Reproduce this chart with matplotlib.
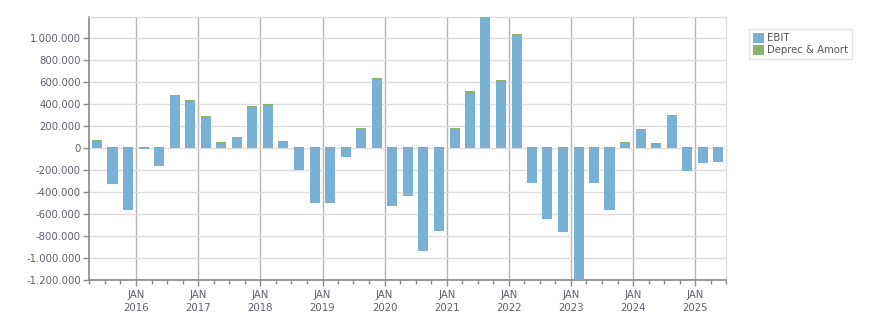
import datetime as dt

import matplotlib
matplotlib.use('Agg')
import matplotlib.pyplot as plt
import matplotlib.dates as mdates
from matplotlib.ticker import FuncFormatter, MultipleLocator
import numpy as np

# quarterly data, Q2 2015 .. Q2 2025
quarters = ['2015Q2', '2015Q3', '2015Q4',
            '2016Q1', '2016Q2', '2016Q3', '2016Q4',
            '2017Q1', '2017Q2', '2017Q3', '2017Q4',
            '2018Q1', '2018Q2', '2018Q3', '2018Q4',
            '2019Q1', '2019Q2', '2019Q3', '2019Q4',
            '2020Q1', '2020Q2', '2020Q3', '2020Q4',
            '2021Q1', '2021Q2', '2021Q3', '2021Q4',
            '2022Q1', '2022Q2', '2022Q3', '2022Q4',
            '2023Q1', '2023Q2', '2023Q3', '2023Q4',
            '2024Q1', '2024Q2', '2024Q3', '2024Q4',
            '2025Q1', '2025Q2']
ebit = [62000, -325000, -564000,
        -12000, -161000, 472000, 421000,
        281000, 47000, 92000, 372000,
        384000, 53000, -200000, -497000,
        -497000, -79000, 174000, 621000,
        -524000, -433000, -933000, -751000,
        174000, 503000, 1280000, 609000,
        1023000, -315000, -643000, -760000,
        -1350000, -315000, -564000, 45000,
        165000, 38000, 292000, -206000,
        -133000, -124000]
deprec = [11000] * len(quarters)

blue = '#78b1d3'
green = '#8ab46e'


def quarter_mid(q):
    y = int(q[:4])
    n = int(q[-1])
    start = dt.date(y, 3 * (n - 1) + 1, 1)
    return start + dt.timedelta(days=45)


x = [quarter_mid(q) for q in quarters]
ebit = np.array(ebit)
deprec = np.array(deprec)

fig = plt.figure(figsize=(8.76, 3.13), dpi=100)
ax = fig.add_axes([0.102, 0.1054, 0.727, 0.8403])

ax.bar(x, ebit, width=59, color=blue, label='EBIT', zorder=3)
ax.bar(x, deprec, width=59, bottom=np.maximum(ebit, 0), color=green,
       label='Deprec & Amort', zorder=3)

ax.set_ylim(-1200000, 1190000)
ax.set_xlim(dt.date(2015, 4, 1), dt.date(2025, 7, 1))

ax.yaxis.set_major_locator(MultipleLocator(200000))
ax.yaxis.set_major_formatter(FuncFormatter(lambda v, p: f'{int(v):,}'.replace(',', '.')))

ax.xaxis.set_major_locator(mdates.YearLocator())
ax.xaxis.set_major_formatter(mdates.DateFormatter('JAN\n%Y'))
ax.xaxis.set_minor_locator(mdates.MonthLocator(bymonth=[1, 4, 7, 10]))

ax.grid(axis='y', color='#dddddd', linewidth=1, zorder=0)
ax.grid(axis='x', which='major', color='#b4b4b4', linewidth=1, zorder=0)

label_col = '#5f5f70'
ax.tick_params(axis='y', labelsize=7.3, colors='#888888', labelcolor=label_col,
               length=4, width=1, pad=2)
ax.tick_params(axis='x', which='major', labelsize=7.3, colors='#888888',
               labelcolor=label_col, length=4, width=1, pad=3)
ax.tick_params(axis='x', which='minor', colors='#888888', length=3, width=1)
for lbl in ax.get_xticklabels():
    lbl.set_horizontalalignment('center')
    lbl.set_linespacing(1.4)

for side in ['left', 'bottom']:
    ax.spines[side].set_color('#888888')
    ax.spines[side].set_linewidth(1.2)
for side in ['top', 'right']:
    ax.spines[side].set_color('#dddddd')
    ax.spines[side].set_linewidth(1)

leg = fig.legend(loc='upper left', bbox_to_anchor=(0.855, 0.907), fontsize=7.3,
                 frameon=True, fancybox=False, borderpad=0.4, handlelength=1.1,
                 handleheight=1.1, handletextpad=0.3, labelspacing=0.15,
                 borderaxespad=0)
leg.get_frame().set_edgecolor('#dddddd')
leg.get_frame().set_linewidth(1)
for t in leg.get_texts():
    t.set_color('#555555')

fig.savefig('out.png', dpi=100)
